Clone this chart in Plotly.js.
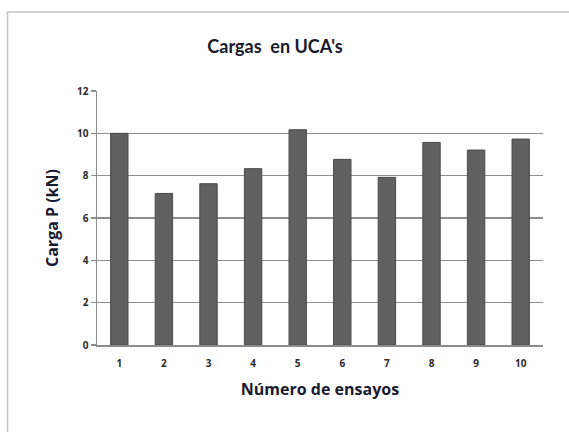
<!DOCTYPE html>
<html>
<head>
<meta charset="utf-8">
<script src="https://cdn.plot.ly/plotly-3.0.1.min.js"></script>
<style>html,body{margin:0;padding:0;background:#fff}#chart{width:569px;height:432px}</style>
</head>
<body>
<div id="chart"></div>
<script>
const categories = ["1","2","3","4","5","6","7","8","9","10"];
const cargas = [10.0, 7.16, 7.62, 8.33, 10.17, 8.77, 7.92, 9.57, 9.21, 9.73];
const yTicks = [0, 2, 4, 6, 8, 10, 12];

const titleFam = "Lato, 'Open Sans', sans-serif";
const axisFam = "'Open Sans', Lato, sans-serif";
const M = {l: 97, r: 26, t: 91, b: 87};
const W = 569, H = 432;
const pw = W - M.l - M.r, ph = H - M.t - M.b;
const px = v => (v - M.l) / pw;
const py = v => (H - M.b - v) / ph;

const trace = {
  type: 'bar',
  x: categories,
  y: cargas,
  marker: {color: '#616161', line: {color: '#4a4a4a', width: 1}},
  hoverinfo: 'x+y'
};

const layout = {
  width: W, height: H,
  margin: M,
  paper_bgcolor: '#fff', plot_bgcolor: '#fff',
  showlegend: false,
  bargap: 0.61,
  font: {family: axisFam, color: '#1f1f2f'},
  title: {
    text: '<b>Cargas  en UCA\'s</b>',
    font: {size: 18, family: titleFam, color: '#1a1a2e'},
    xref: 'container', x: 275 / W, xanchor: 'center',
    yref: 'container', y: 1 - 47 / H, yanchor: 'middle'
  },
  xaxis: {
    type: 'category',
    tickvals: categories,
    ticktext: categories.map(c => '<b>' + c + '</b>'),
    showgrid: false,
    showline: true, linecolor: '#8c8c8c', linewidth: 2,
    ticks: 'outside', ticklen: 8, tickcolor: 'rgba(0,0,0,0)',
    tickfont: {size: 10, family: axisFam, color: '#2a2a2a'},
    title: {text: '<b>Número de ensayos</b>', font: {size: 16, family: axisFam, color: '#1a1a2e'}, standoff: 15},
    zeroline: false
  },
  yaxis: {
    range: [0, 12],
    tickvals: yTicks,
    ticktext: yTicks.map(v => '<b>' + v + '</b>'),
    showgrid: true, gridcolor: '#8e8e8e', gridwidth: 1.6,
    showline: true, linecolor: '#8c8c8c', linewidth: 1.5,
    ticks: 'outside', ticklen: 5, tickcolor: '#8c8c8c', tickwidth: 1.5,
    tickfont: {size: 10, family: axisFam, color: '#2a2a2a'},
    title: {text: '<b>Carga P (kN)</b>', font: {size: 16, family: axisFam, color: '#1a1a2e'}, standoff: 14},
    zeroline: false
  },
  shapes: [{
    type: 'rect', xref: 'paper', yref: 'paper',
    x0: px(7.5), x1: px(580), y0: py(445), y1: py(12),
    line: {color: '#c4c4c4', width: 1.5}, fillcolor: 'rgba(0,0,0,0)', layer: 'below'
  }]
};

Plotly.newPlot('chart', [trace], layout, {displayModeBar: false, staticPlot: true});
</script>
</body>
</html>
